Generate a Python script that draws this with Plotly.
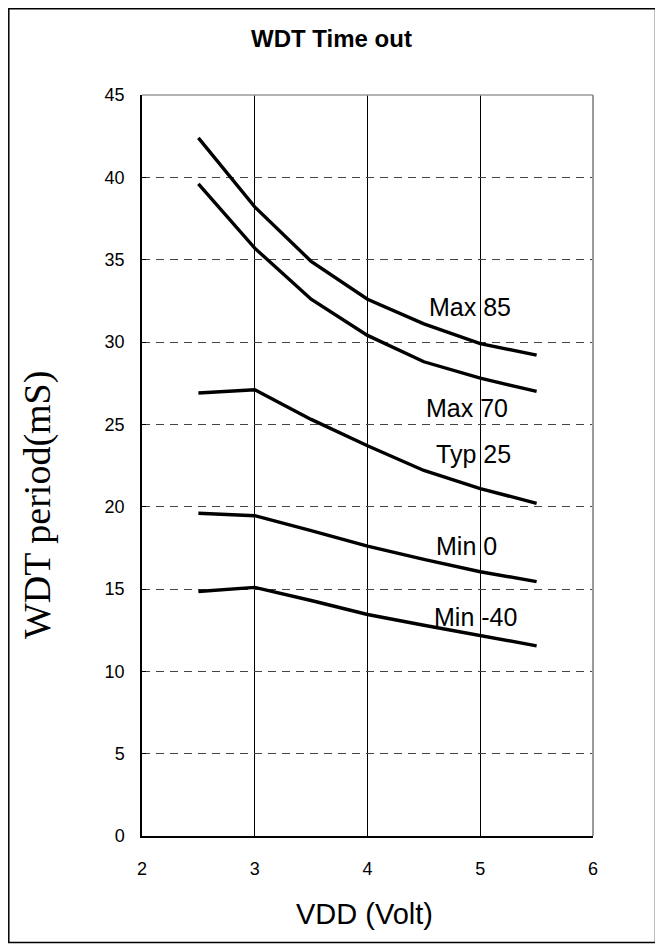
import plotly.graph_objects as go

vdd = [2.5, 3.0, 3.5, 4.0, 4.5, 5.0, 5.5]
max85 = [42.4, 38.2, 34.9, 32.6, 31.1, 29.9, 29.2]
max70 = [39.6, 35.7, 32.6, 30.4, 28.8, 27.8, 27.0]
typ25 = [26.9, 27.1, 25.3, 23.7, 22.2, 21.1, 20.2]
min0 = [19.6, 19.45, 18.55, 17.6, 16.8, 16.05, 15.45]
minm40 = [14.85, 15.1, 14.3, 13.45, 12.8, 12.2, 11.55]

series_names = ["Max 85", "Max 70", "Typ 25", "Min 0", "Min -40"]
series_vals = [max85, max70, typ25, min0, minm40]
label_x = [4.91, 4.88, 4.94, 4.88, 4.96]
label_y = [32.1, 26.0, 23.2, 17.6, 13.3]

x_ticks = [2, 3, 4, 5, 6]
y_ticks = [0, 5, 10, 15, 20, 25, 30, 35, 40, 45]

# page body has an 8px margin; the figure starts at screen (8, 8)
OFF = 8
SW, SH = 663, 950
L, R, T, B = 142, 593, 95, 836   # plot area in screen pixels
W, H = SW - OFF, SH - OFF

fig = go.Figure()
for name, vals in zip(series_names, series_vals):
    fig.add_trace(go.Scatter(x=vdd, y=vals, mode="lines", name=name,
                             line=dict(color="black", width=3.4), showlegend=False))

for name, lx, ly in zip(series_names, label_x, label_y):
    fig.add_annotation(x=lx, y=ly, text=name, showarrow=False,
                       xanchor="center", yanchor="middle",
                       font=dict(family="Liberation Sans, Arial", size=25, color="black"))

pw, ph = R - L, B - T
def px(xs):
    return (xs - L) / pw
def py(ys):
    return (B - ys) / ph

fig.update_layout(
    width=W, height=H,
    margin=dict(l=L - OFF, r=SW - R, t=T - OFF, b=SH - B),
    paper_bgcolor="white", plot_bgcolor="white",
    xaxis=dict(range=[2, 6], tickvals=x_ticks, showgrid=True, gridcolor="black", gridwidth=1,
               showline=True, linecolor="black", linewidth=1.5, ticks="", zeroline=False,
               ticklabelstandoff=16,
               tickfont=dict(family="Liberation Sans, Arial", size=18, color="black")),
    yaxis=dict(range=[0, 45], tickvals=y_ticks, showgrid=True, gridcolor="#444444", gridwidth=1,
               griddash="8px,6px", showline=True, linecolor="black", linewidth=1.5,
               ticks="inside", ticklen=4, tickcolor="black", zeroline=False,
               ticklabelstandoff=12,
               tickfont=dict(family="Liberation Sans, Arial", size=18, color="black")),
)

# top and right plot-area border (gray)
fig.add_shape(type="line", xref="paper", yref="paper", x0=0, x1=1, y0=1, y1=1,
              line=dict(color="#9a9a9a", width=1.5))
fig.add_shape(type="line", xref="paper", yref="paper", x0=1, x1=1, y0=0, y1=1,
              line=dict(color="#9a9a9a", width=2))

# outer figure border
fig.add_shape(type="rect", xref="paper", yref="paper",
              x0=px(8.8), x1=px(655.5), y0=py(942.5), y1=py(8.8),
              line=dict(color="black", width=1.5), layer="below")

fig.add_annotation(xref="paper", yref="paper", x=px(331), y=py(38), text="<b>WDT Time out</b>",
                   xanchor="center", yanchor="middle", showarrow=False,
                   font=dict(family="Liberation Sans, Arial", size=24, color="black"))
fig.add_annotation(xref="paper", yref="paper", x=px(364), y=py(914), text="VDD (Volt)",
                   xanchor="center", yanchor="middle", showarrow=False,
                   font=dict(family="Liberation Sans, Arial", size=29, color="black"))
fig.add_annotation(xref="paper", yref="paper", x=px(37), y=py(505), text="WDT period(mS)",
                   xanchor="center", yanchor="middle", textangle=-90, showarrow=False,
                   font=dict(family="Liberation Serif, Times New Roman", size=38, color="black"))

fig.write_html("out.html")
